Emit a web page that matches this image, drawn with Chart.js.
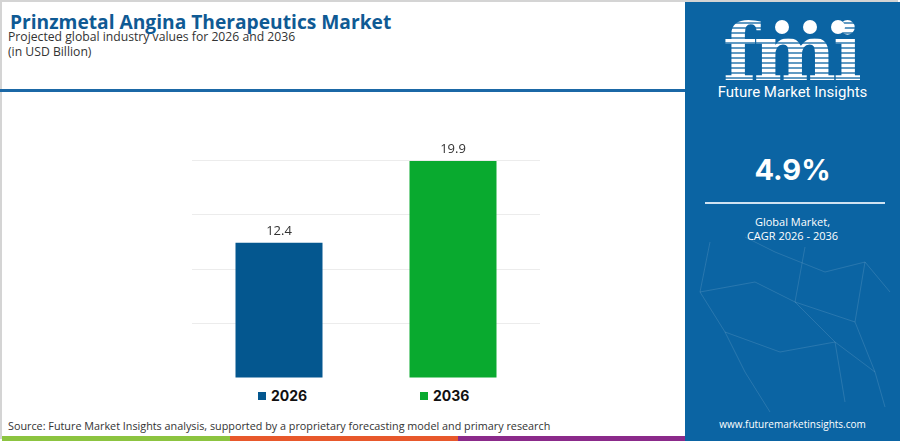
<!DOCTYPE html>
<html>
<head>
<meta charset="utf-8">
<script src="https://cdn.jsdelivr.net/npm/chart.js@4.4.1/dist/chart.umd.min.js"></script>
<style>
  html, body { margin:0; padding:0; }
  body { width:900px; height:441px; position:relative; overflow:hidden; background:#fff; font-family:"Open Sans", "Noto Sans", sans-serif; }
  .frame { position:absolute; left:0; top:0; width:898px; height:439px; border:1px solid #d4d4d4; border-width:2px 0 0 2px; box-sizing:border-box; }
  #title { position:absolute; left:10px; top:8px; font-size:19.2px; font-weight:700; color:#0f5a94; font-family:"Open Sans", sans-serif; white-space:nowrap; }
  #sub1 { position:absolute; left:8px; top:28px; font-size:12.2px; color:#333; white-space:nowrap; }
  #sub2 { position:absolute; left:8px; top:43px; font-size:12.2px; color:#333; white-space:nowrap; }
  .rule { position:absolute; left:0; top:89px; width:686px; height:3px; background:#1b68a6; }
  #chartBox { position:absolute; left:192px; top:130px; width:348px; height:248px; }
  #legend { position:absolute; top:387px; left:0; width:686px; height:20px; }
  .li { position:absolute; display:flex; align-items:center; font-weight:700; font-size:14px; color:#111; font-family:"Inter", sans-serif; }
  .li span.sw { display:inline-block; width:8px; height:8px; margin-right:5px; }
  #source { position:absolute; left:8px; top:418px; font-size:10.8px; color:#333; white-space:nowrap; }
  .strip { position:absolute; top:436px; height:5px; }
  #panel { position:absolute; left:685px; top:2px; width:215px; height:439px; background:#0b64a3; overflow:hidden; }
  .logo { position:absolute; left:38px; top:18px; width:140px; height:70px; }
  .fmi { position:absolute; left:0; top:-6px; font-family:"DejaVu Serif", serif; font-weight:700; font-size:78px; line-height:78px; letter-spacing:-3px;
         background:repeating-linear-gradient(to bottom, #ffffff 0 3px, rgba(255,255,255,0.35) 3px 5px); -webkit-background-clip:text; background-clip:text; color:transparent; }
  .dot { position:absolute; width:14px; height:14px; border-radius:50%; background:#fff; }
  .fmiText { position:absolute; left:0; width:215px; top:81px; text-align:center; color:#fff; font-size:15px; font-family:"Roboto", sans-serif; }
  .cagr { position:absolute; left:0; width:215px; top:150px; text-align:center; color:#fff; font-size:29px; font-weight:700; font-family:"Inter", sans-serif; }
  .pline { position:absolute; left:20px; top:200px; width:180px; height:2px; background:#cfe2f2; }
  .ptext { position:absolute; left:0; width:215px; text-align:center; color:#fff; font-size:11px; }
  .url { position:absolute; left:0; width:215px; top:415px; text-align:center; color:#fff; font-size:10px; }
  svg.net { position:absolute; left:0; top:230px; }
</style>
</head>
<body>
<div class="frame"></div>
<div id="title">Prinzmetal Angina Therapeutics Market</div>
<div id="sub1">Projected global industry values for 2026 and 2036</div>
<div id="sub2">(in USD Billion)</div>
<div class="rule"></div>

<div id="chartBox"><canvas id="c"></canvas></div>
<div id="legend"></div>

<div id="source">Source: Future Market Insights analysis, supported by a proprietary forecasting model and primary research</div>
<div class="strip" style="left:2px;width:228px;background:#8cc440;"></div>
<div class="strip" style="left:230px;width:228px;background:#e8582b;"></div>
<div class="strip" style="left:458px;width:228px;background:#8b2a8a;"></div>

<div id="panel">
  <svg class="net" width="215" height="190">
    <g stroke="rgba(255,255,255,0.12)" stroke-width="1" fill="none">
      <polyline points="25,10 15,60 40,100 60,140 85,180"/>
      <polyline points="60,5 90,20 140,40 180,30 205,60"/>
      <polyline points="40,100 95,120 150,110 190,140"/>
      <polyline points="120,15 110,70 150,110 160,170"/>
      <polyline points="180,30 170,90 190,140 200,175"/>
      <polyline points="15,60 70,50 110,70 170,90"/>
    </g>
  </svg>
  <div class="logo">
    <div class="fmi">fmi</div>
    <div class="dot" style="left:52px;top:0px;"></div>
    <div class="dot" style="left:80px;top:0px;"></div>
    <div class="dot" style="left:108px;top:0px;"></div>
  </div>
  <div class="fmiText">Future Market Insights</div>
  <div class="cagr">4.9%</div>
  <div class="pline"></div>
  <div class="ptext" style="top:212px;">Global Market,</div>
  <div class="ptext" style="top:226px;">CAGR 2026 - 2036</div>
  <div class="url">www.futuremarketinsights.com</div>
</div>

<script>
const categories = ["2026", "2036"];
const values2026 = [12.4, null];
const values2036 = [null, 19.9];
const seriesLabels = ["2026", "2036"];
const seriesColors = ["#04578f", "#09aa2f"];
const yTicks = [0, 5, 10, 15, 20];

const valueLabels = {
  id: "valueLabels",
  afterDatasetsDraw(chart) {
    const ctx = chart.ctx;
    ctx.save();
    ctx.font = "13px 'Open Sans', sans-serif";
    ctx.fillStyle = "#333";
    ctx.textAlign = "center";
    ctx.textBaseline = "bottom";
    chart.data.datasets.forEach((ds, i) => {
      chart.getDatasetMeta(i).data.forEach((el, j) => {
        const v = ds.data[j];
        if (v == null) return;
        ctx.fillText(v.toFixed(1), el.x, el.y - 5);
      });
    });
    ctx.restore();
  }
};

const chart = new Chart(document.getElementById("c"), {
  type: "bar",
  data: {
    labels: categories,
    datasets: [
      { label: seriesLabels[0], data: values2026, backgroundColor: seriesColors[0] },
      { label: seriesLabels[1], data: values2036, backgroundColor: seriesColors[1] }
    ]
  },
  options: {
    responsive: true,
    maintainAspectRatio: false,
    animation: false,
    layout: { padding: { top: 30, left: 0, right: 0, bottom: 0 } },
    datasets: { bar: { grouped: false, categoryPercentage: 1.0, barPercentage: 0.5 } },
    plugins: { legend: { display: false }, tooltip: { enabled: false } },
    scales: {
      x: { display: false },
      y: {
        min: yTicks[0], max: yTicks[yTicks.length - 1],
        afterBuildTicks(axis) { axis.ticks = yTicks.map(v => ({ value: v })); },
        ticks: { display: false },
        border: { display: false },
        grid: { color: "#ececec", lineWidth: 1, drawTicks: false },
        afterFit(axis) { axis.width = 0; }
      }
    }
  },
  plugins: [valueLabels]
});

// HTML legend built from the chart's datasets
const legendPos = [258, 420];
const legend = document.getElementById("legend");
chart.data.datasets.forEach((ds, i) => {
  const d = document.createElement("div");
  d.className = "li";
  d.style.left = legendPos[i] + "px";
  d.innerHTML = '<span class="sw" style="background:' + ds.backgroundColor + '"></span>' + ds.label;
  legend.appendChild(d);
});
</script>
</body>
</html>
